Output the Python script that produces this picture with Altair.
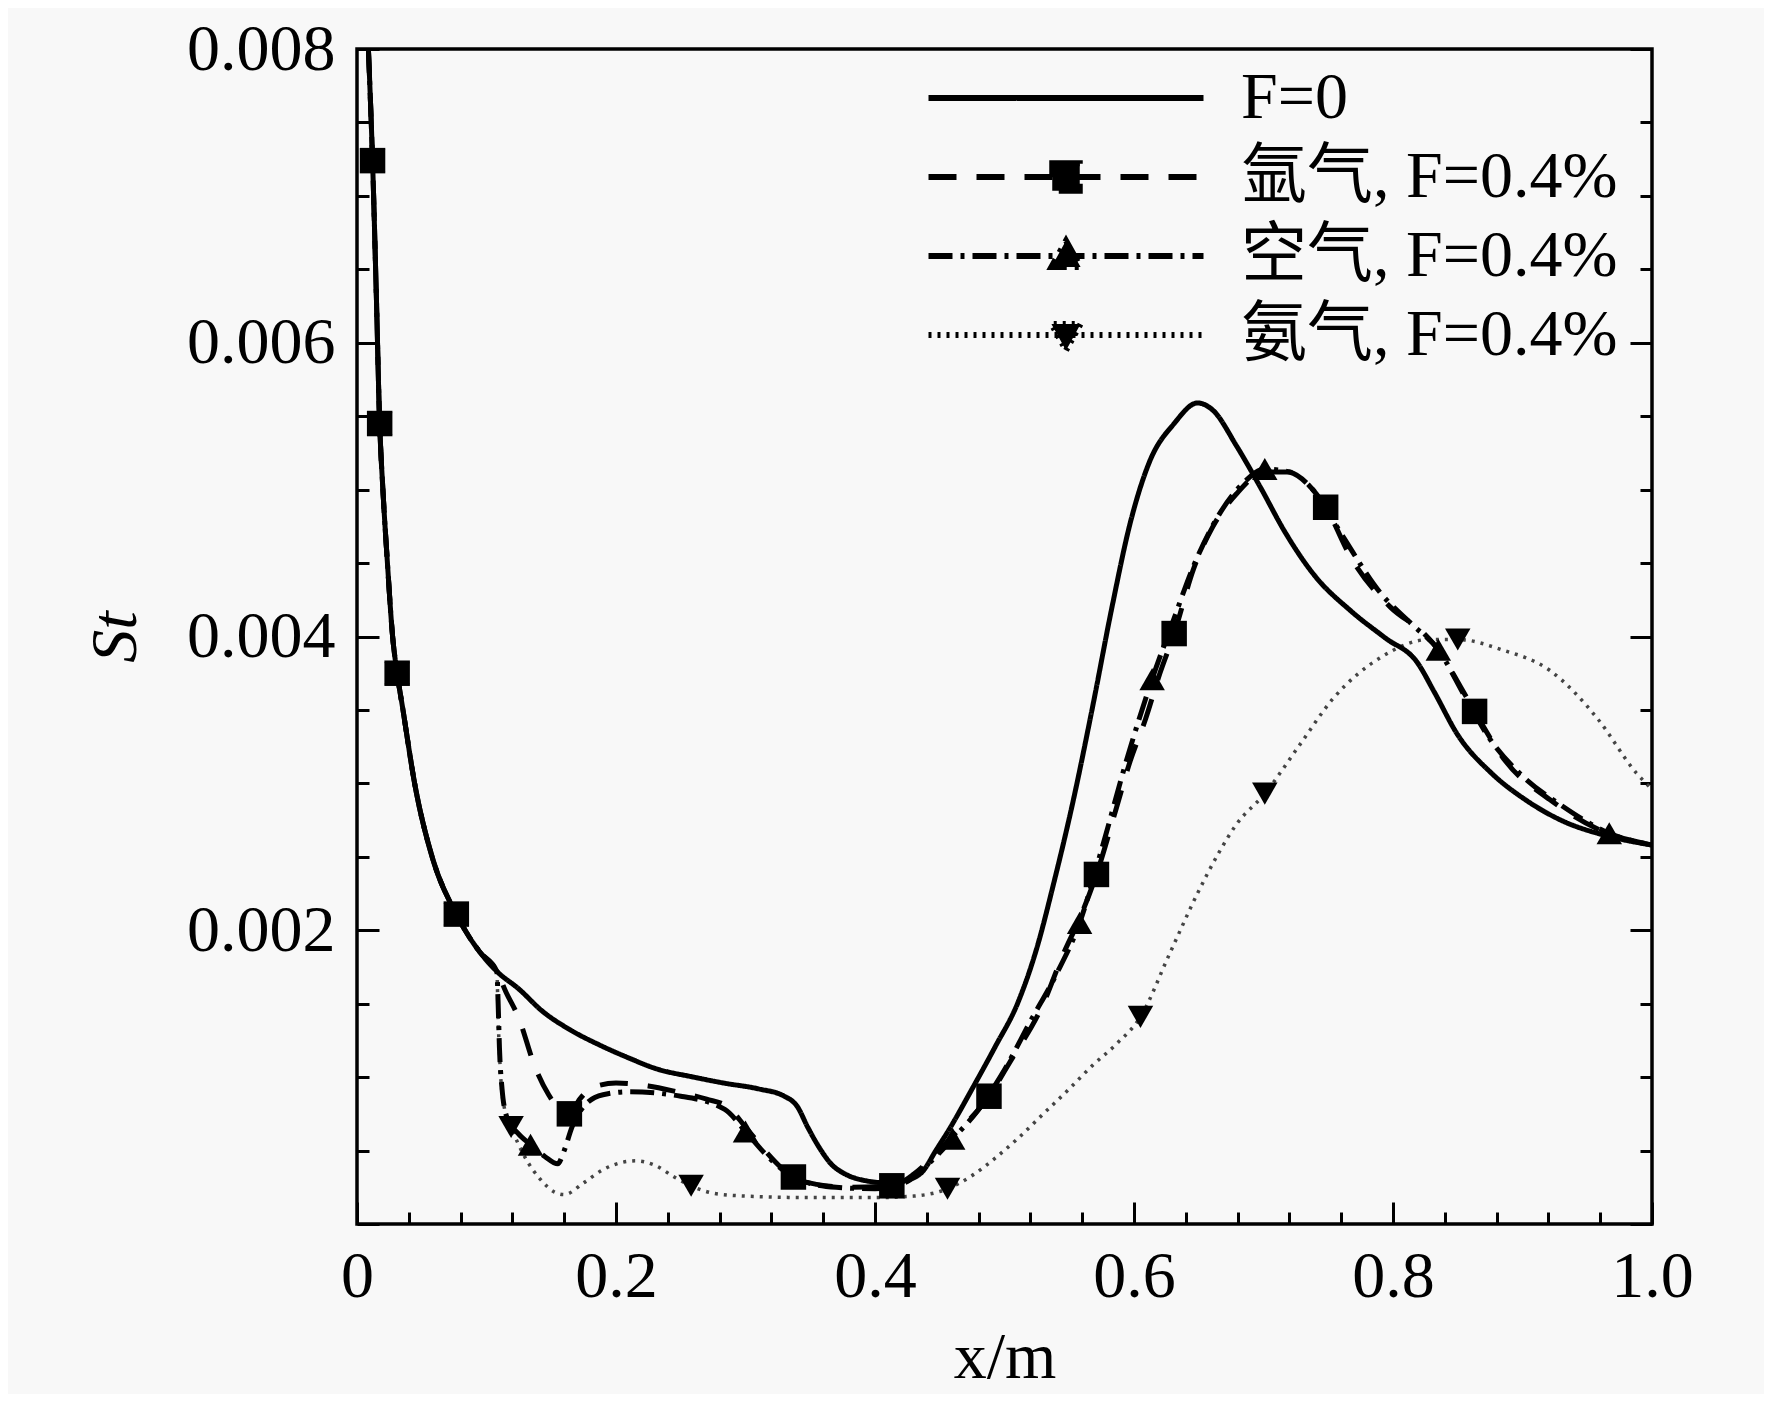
import altair as alt
import pandas as pd

W, H = 1295, 1175
FONT = "Liberation Serif"
FONT_CJK = "Liberation Serif, Noto Sans CJK SC"

S0 = "F=0"
S1 = "氩气, F=0.4%"
S2 = "空气, F=0.4%"
S3 = "氨气, F=0.4%"
ORDER = [S0, S1, S2, S3]

# leading section shared by all four cases
x_common = [0.0088, 0.0120, 0.0150, 0.0175, 0.0200, 0.0235, 0.0275, 0.0310, 0.0355,
            0.0445, 0.0580, 0.0767, 0.0835, 0.0950, 0.1080]
st_common = [0.00800, 0.00724, 0.00630, 0.00545, 0.00500, 0.00450, 0.00400, 0.00375, 0.00350,
             0.00300, 0.00250, 0.00211, 0.00200, 0.00185, 0.00172]

# F = 0
x_f0 = [0.125, 0.143, 0.165, 0.187, 0.21, 0.23, 0.26, 0.283, 0.31, 0.33, 0.340, 0.348, 0.357,
        0.366, 0.377, 0.39, 0.41, 0.425, 0.437, 0.447, 0.457, 0.475, 0.493, 0.510, 0.525, 0.538,
        0.553, 0.568, 0.583, 0.597, 0.612, 0.631, 0.649, 0.661, 0.679, 0.698, 0.716, 0.739,
        0.768, 0.794, 0.819, 0.832, 0.850, 0.876, 0.902, 0.932, 0.962, 1.0]
st_f0 = [0.00160, 0.00145, 0.00132, 0.00122, 0.00113, 0.00106, 0.00100, 0.00096, 0.00092,
         0.00087, 0.00080, 0.00066, 0.00052, 0.00041, 0.00034, 0.00030, 0.00028, 0.00030,
         0.00036, 0.00050, 0.00064, 0.00092, 0.00121, 0.00150, 0.00188, 0.00232, 0.00288,
         0.00352, 0.00420, 0.00477, 0.00519, 0.00545, 0.00559, 0.00554, 0.00530, 0.00501,
         0.00472, 0.00442, 0.00417, 0.00399, 0.00382, 0.00362, 0.00333, 0.00307, 0.00289,
         0.00274, 0.00265, 0.00258]

# argon
x_ar = [0.115, 0.125, 0.137, 0.148, 0.158, 0.164, 0.172, 0.182, 0.20, 0.225, 0.247, 0.270, 0.286,
        0.300, 0.315, 0.328, 0.337, 0.355, 0.38, 0.413, 0.43, 0.445, 0.46, 0.475, 0.488, 0.504,
        0.530, 0.545, 0.558, 0.571, 0.586, 0.597, 0.609, 0.620, 0.631, 0.646, 0.661, 0.679, 0.701,
        0.72, 0.735, 0.748, 0.768, 0.798, 0.824, 0.835, 0.852, 0.863, 0.887, 0.921, 0.958, 1.0]
st_ar = [0.00158, 0.00140, 0.00108, 0.00088, 0.00077, 0.00075, 0.00085, 0.00093, 0.00096,
         0.00094, 0.00090, 0.00085, 0.00080, 0.00066, 0.00050, 0.00038, 0.00032, 0.00027,
         0.00025, 0.00026, 0.00034, 0.00046, 0.00060, 0.00073, 0.00087, 0.00110, 0.00150,
         0.00183, 0.00208, 0.00238, 0.00282, 0.00315, 0.00344, 0.00375, 0.00402, 0.00446,
         0.00475, 0.00497, 0.00512, 0.00512, 0.00503, 0.00488, 0.00453, 0.00420, 0.00402,
         0.00391, 0.00366, 0.00349, 0.00315, 0.00289, 0.00269, 0.00258]

# air
x_air = [0.109, 0.110, 0.112, 0.116, 0.124, 0.134, 0.145, 0.155, 0.160, 0.166, 0.175, 0.19, 0.21,
         0.25, 0.284, 0.300, 0.315, 0.33, 0.345, 0.37, 0.40, 0.425, 0.44, 0.46, 0.48, 0.50, 0.52,
         0.540, 0.558, 0.575, 0.595, 0.614, 0.630, 0.646, 0.665, 0.685, 0.701, 0.72, 0.74, 0.76,
         0.79, 0.815, 0.835, 0.855, 0.875, 0.90, 0.93, 0.967, 1.0]
st_air = [0.00150, 0.00120, 0.00092, 0.00072, 0.00062, 0.00054, 0.00046, 0.00041, 0.00050,
          0.00066, 0.00080, 0.00088, 0.00090, 0.00087, 0.00078, 0.00063, 0.00048, 0.00036,
          0.00029, 0.00025, 0.00024, 0.00029, 0.00040, 0.00058, 0.00078, 0.00105, 0.00138,
          0.00170, 0.00205, 0.00255, 0.00318, 0.00371, 0.00410, 0.00448, 0.00482, 0.00505,
          0.00514, 0.00512, 0.00498, 0.00470, 0.00430, 0.00408, 0.00391, 0.00360, 0.00330,
          0.00305, 0.00285, 0.00266, 0.00258]

# ammonia
x_nh3 = [0.109, 0.111, 0.114, 0.119, 0.13, 0.142, 0.152, 0.160, 0.175, 0.19, 0.205, 0.215, 0.23,
         0.245, 0.258, 0.275, 0.30, 0.35, 0.40, 0.43, 0.456, 0.475, 0.493, 0.51, 0.530, 0.55,
         0.568, 0.587, 0.605, 0.627, 0.649, 0.665, 0.679, 0.701, 0.727, 0.754, 0.791, 0.828,
         0.850, 0.884, 0.921, 0.958, 0.988, 1.0]
st_nh3 = [0.00140, 0.00100, 0.00078, 0.00066, 0.00045, 0.00030, 0.00022, 0.00020, 0.00028,
          0.00037, 0.00042, 0.00043, 0.00040, 0.00032, 0.00026, 0.00021, 0.00019, 0.00018,
          0.00018, 0.00019, 0.00024, 0.00033, 0.00045, 0.00058, 0.00075, 0.00092, 0.00108,
          0.00123, 0.00141, 0.00183, 0.00225, 0.00252, 0.00272, 0.00293, 0.00325, 0.00358,
          0.00386, 0.00398, 0.00398, 0.00391, 0.00377, 0.00344, 0.00307, 0.00296]

# marker positions
mx_common = [0.012, 0.0175, 0.031, 0.0767]
my_common = [0.00724, 0.00545, 0.00375, 0.00211]
mx_ar = [0.164, 0.337, 0.413, 0.488, 0.571, 0.631, 0.748, 0.863]
my_ar = [0.00075, 0.00032, 0.00026, 0.00087, 0.00238, 0.00402, 0.00488, 0.00349]
mx_air = [0.134, 0.300, 0.460, 0.558, 0.614, 0.701, 0.835, 0.967]
my_air = [0.00054, 0.00063, 0.00058, 0.00205, 0.00371, 0.00514, 0.00391, 0.00266]
mx_nh3 = [0.119, 0.258, 0.456, 0.605, 0.701, 0.850]
my_nh3 = [0.00066, 0.00026, 0.00024, 0.00141, 0.00293, 0.00398]

x_major = [0, 0.2, 0.4, 0.6, 0.8, 1.0]
x_minor = [round(i * 0.04, 2) for i in range(26) if i % 5]
y_major = [0, 0.002, 0.004, 0.006, 0.008]
y_minor = [round(i * 0.0005, 4) for i in range(17) if i % 4]

lines = pd.concat([
    pd.DataFrame({"x": x_common + xs, "y": st_common + ys, "series": name})
    for name, xs, ys in [(S0, x_f0, st_f0), (S1, x_ar, st_ar), (S2, x_air, st_air), (S3, x_nh3, st_nh3)]
], ignore_index=True)

pts = pd.concat([
    pd.DataFrame({"x": mx_common + xs, "y": my_common + ys, "series": name})
    for name, xs, ys in [(S1, mx_ar, my_ar), (S2, mx_air, my_air), (S3, mx_nh3, my_nh3)]
], ignore_index=True)

xs = alt.Scale(domain=[0, 1], nice=False, zero=False)
ys = alt.Scale(domain=[0, 0.008], nice=False, zero=False)

DASHES = [[1, 0], [28, 20], [24, 8, 4, 8], [3, 6]]


def tick_axis(orient, values, size, offset):
    return alt.Axis(orient=orient, values=values, tickSize=size, offset=offset, labels=False,
                    domain=False, grid=False, title=None, ticks=True, tickColor="black",
                    tickWidth=3)


x_main = alt.Axis(orient="bottom", values=x_major,
                  labelExpr="datum.value == 0 ? '0' : format(datum.value, '.1f')",
                  ticks=False, tickSize=0, domain=False, grid=False, labelFlush=False,
                  labelFont=FONT, labelFontSize=66, labelColor="black", labelPadding=20,
                  title="x/m", titleFont=FONT, titleFontSize=66, titleFontWeight="normal",
                  titleColor="black", titleY=133, titleBaseline="middle")
y_main = alt.Axis(orient="left", values=[0.002, 0.004, 0.006, 0.008], format=".3f",
                  ticks=False, tickSize=0, domain=False, grid=False, labelFlush=False,
                  labelFont=FONT, labelFontSize=66, labelColor="black", labelPadding=22,
                  title="St", titleFont=FONT, titleFontSize=66, titleFontWeight="normal",
                  titleFontStyle="italic", titleColor="black", titleX=-242, titleY=H / 2,
                  titleAngle=270, titleBaseline="middle", titleAlign="center")

# three heavier curves
line_layer = alt.Chart(lines).mark_line(interpolate="monotone", clip=True, strokeWidth=5,
                                        color="black").encode(
    x=alt.X("x:Q", scale=xs, axis=x_main),
    y=alt.Y("y:Q", scale=ys, axis=y_main),
    strokeDash=alt.StrokeDash("series:N", scale=alt.Scale(domain=ORDER, range=DASHES), legend=None),
).transform_filter(alt.datum.series != S3)

# thin dotted ammonia curve
nh3_layer = alt.Chart(lines).mark_line(interpolate="monotone", clip=True, strokeWidth=3.5,
                                       color="#444444", strokeDash=DASHES[3]).encode(
    x=alt.X("x:Q", scale=xs, axis=None),
    y=alt.Y("y:Q", scale=ys, axis=None),
).transform_filter(alt.datum.series == S3)

point_layer = alt.Chart(pts).mark_point(filled=True, opacity=1, size=650, color="black").encode(
    x=alt.X("x:Q", scale=xs, axis=tick_axis("top", x_major, 22, -H)),
    y=alt.Y("y:Q", scale=ys, axis=tick_axis("right", y_major, 22, -W)),
    shape=alt.Shape("series:N", scale=alt.Scale(domain=[S1, S2, S3], range=["square", "triangle-up", "triangle-down"]), legend=None),
)

LINE_PATH = "M-1,0H9"
LEG_PATHS = [
    LINE_PATH,
    LINE_PATH + "M3.5,-0.5H4.5V0.5H3.5Z",
    LINE_PATH + "M4,-0.56L4.53,0.4H3.47Z",
    LINE_PATH + "M4,0.56L4.53,-0.4H3.47Z",
]

leg = alt.Legend(orient="none", legendX=566, legendY=16, title=None, padding=0, columns=1,
                 direction="vertical", labelFont=FONT_CJK, labelFontSize=66, labelColor="black",
                 labelLimit=1000, labelOffset=252, rowPadding=13, symbolSize=3025,
                 symbolStrokeWidth=6, symbolOpacity=1, labelBaseline="middle")

legend_layer = alt.Chart(pts).mark_point(filled=True, opacity=1, fill="black", stroke="black",
                                         strokeWidth=6).encode(
    x=alt.X("x:Q", scale=xs, axis=tick_axis("top", x_minor, 12, -H)),
    y=alt.Y("y:Q", scale=ys, axis=tick_axis("right", y_minor, 12, -W)),
    shape=alt.Shape("series:N", scale=alt.Scale(domain=ORDER, range=LEG_PATHS), legend=leg),
    strokeDash=alt.StrokeDash("series:N", scale=alt.Scale(domain=ORDER, range=DASHES), legend=leg),
).transform_filter("false")

dummy_major = alt.Chart(pts).mark_point(opacity=0).encode(
    x=alt.X("x:Q", scale=xs, axis=None),
    y=alt.Y("y:Q", scale=ys, axis=tick_axis("left", y_major, 22, -W)),
).transform_filter("false")

dummy_minor = alt.Chart(pts).mark_point(opacity=0).encode(
    x=alt.X("x:Q", scale=xs, axis=None),
    y=alt.Y("y:Q", scale=ys, axis=tick_axis("left", y_minor, 12, -W)),
).transform_filter("false")

chart = alt.layer(nh3_layer, line_layer, point_layer, legend_layer, dummy_major, dummy_minor).resolve_scale(
    shape="independent", strokeDash="independent"
).resolve_legend(
    shape="independent", strokeDash="independent"
).resolve_axis(x="independent", y="independent").properties(
    width=W, height=H,
    autosize=alt.AutoSizeParams(type="none"),
    padding={"left": 349, "top": 41, "right": 112, "bottom": 170},
    background="#f8f8f8",
).configure_view(stroke="black", strokeWidth=3.5)

chart.save("out.html", embed_options={"renderer": "svg", "actions": False})
